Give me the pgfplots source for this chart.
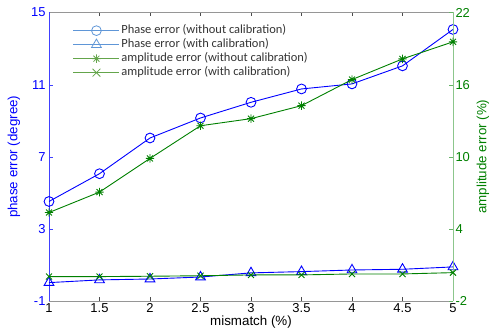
\documentclass[border=0pt]{standalone}
\usepackage{fontspec}
\setmainfont{Liberation Sans}
\newfontfamily\legfont{Carlito}
\usepackage{pgfplots}
\pgfplotsset{compat=1.18}

\definecolor{pblue}{RGB}{0,0,255}
\definecolor{agreen}{RGB}{0,128,0}
\definecolor{legblue}{RGB}{95,150,215}
\definecolor{leggreen}{RGB}{100,165,75}
\definecolor{framegray}{RGB}{150,150,150}

% asterisk made of a plus and a cross
\pgfdeclareplotmark{mstar}{%
  \pgfpathmoveto{\pgfqpoint{-\pgfplotmarksize}{0pt}}%
  \pgfpathlineto{\pgfqpoint{\pgfplotmarksize}{0pt}}%
  \pgfpathmoveto{\pgfqpoint{0pt}{-\pgfplotmarksize}}%
  \pgfpathlineto{\pgfqpoint{0pt}{\pgfplotmarksize}}%
  \pgfpathmoveto{\pgfqpoint{-.707\pgfplotmarksize}{-.707\pgfplotmarksize}}%
  \pgfpathlineto{\pgfqpoint{.707\pgfplotmarksize}{.707\pgfplotmarksize}}%
  \pgfpathmoveto{\pgfqpoint{-.707\pgfplotmarksize}{.707\pgfplotmarksize}}%
  \pgfpathlineto{\pgfqpoint{.707\pgfplotmarksize}{-.707\pgfplotmarksize}}%
  \pgfusepathqstroke}

\pgfplotsset{
  twin/.style={
    scale only axis, width=404bp, height=288.5bp,
    xmin=1, xmax=5,
    xtick={1,1.5,...,5},
    tick align=inside,
    major tick length=4bp,
    /pgf/number format/assume math mode=true,
    tick label style={font=\fontsize{13}{15}\selectfont},
    label style={font=\fontsize{13.4}{15}\selectfont},
  },
}

\begin{document}
\begin{tikzpicture}
% phase error, left axis
\begin{axis}[twin, name=main,
  axis x line*=box, axis y line*=left,
  ymin=-1, ymax=15, ytick={-1,3,7,11,15},
  x axis line style={draw=framegray},
  every x tick/.style={black!70},
  y axis line style={draw=blue!75},
  every y tick/.style={blue!75},
  yticklabel style={text=pblue},
  xticklabel style={yshift=1bp},
  xlabel={mismatch (\%)},
  xlabel style={at={(axis description cs:0.5,-0.074)}, anchor=center},
  ylabel={phase error (degree)},
  ylabel style={at={(axis description cs:-0.0866,0.5)}, anchor=center, text=pblue},
]
\addplot[pblue, line width=0.9bp, mark=o, mark size=4.9bp, mark options={solid}]
  coordinates {(1,4.52) (1.5,6.06) (2,8.04) (2.5,9.15) (3,10.02) (3.5,10.76) (4,11.04) (4.5,12.04) (5,14.06)};
\addplot[pblue, line width=0.9bp, mark=triangle, mark size=5.6bp, mark options={solid}]
  coordinates {(1,0.02) (1.5,0.17) (2,0.22) (2.5,0.33) (3,0.56) (3.5,0.63) (4,0.72) (4.5,0.76) (5,0.89)};
\end{axis}
% amplitude error, right axis
\begin{axis}[twin,
  axis x line=none, axis y line*=right,
  ymin=-2, ymax=22, ytick={-2,4,10,16,22},
  y axis line style={draw=agreen!45},
  every y tick/.style={agreen!60},
  yticklabel style={text=agreen, xshift=-1bp},
  ylabel={amplitude error (\%)},
  ylabel style={at={(axis description cs:1.0743,0.5)}, anchor=center, text=agreen},
  legend image code/.code={%
    \draw[mark repeat=2, mark phase=2] plot coordinates {(0bp,0bp) (23bp,0bp) (46bp,0bp)};},
  legend style={draw=none, fill=none, at={(axis description cs:0.059,0.962)}, anchor=north west,
    inner sep=0pt, font=\legfont\fontsize{12.5}{13}\selectfont, text=black!80,
    nodes={text height=8.2bp, text depth=2.6bp, inner sep=1.6bp}},
  legend cell align=left,
]
\addplot[agreen, line width=0.9bp, mark=mstar, mark size=4.2bp, mark options={solid}, forget plot]
  coordinates {(1,5.36) (1.5,7.06) (2,9.86) (2.5,12.58) (3,13.17) (3.5,14.25) (4,16.42) (4.5,18.14) (5,19.56)};
\addplot[agreen, line width=0.9bp, mark=x, mark size=4.3bp, mark options={solid}, forget plot]
  coordinates {(1,0.03) (1.5,0.03) (2,0.06) (2.5,0.10) (3,0.17) (3.5,0.17) (4,0.25) (4.5,0.25) (5,0.36)};
\addlegendimage{legblue, line width=0.8bp, mark=o, mark size=4.9bp}
\addlegendentry{Phase error (without calibration)}
\addlegendimage{legblue, line width=0.8bp, mark=triangle, mark size=5.6bp}
\addlegendentry{Phase error (with calibration)}
\addlegendimage{leggreen, line width=0.8bp, mark=mstar, mark size=4.2bp}
\addlegendentry{amplitude error (without calibration)}
\addlegendimage{leggreen, line width=0.8bp, mark=x, mark size=5.5bp}
\addlegendentry{amplitude error (with calibration)}
\end{axis}
\pgfresetboundingbox
\path ([shift={(-49bp,-34bp)}]main.south west) rectangle ([shift={(39bp,12.5bp)}]main.north east);
\end{tikzpicture}
\end{document}
